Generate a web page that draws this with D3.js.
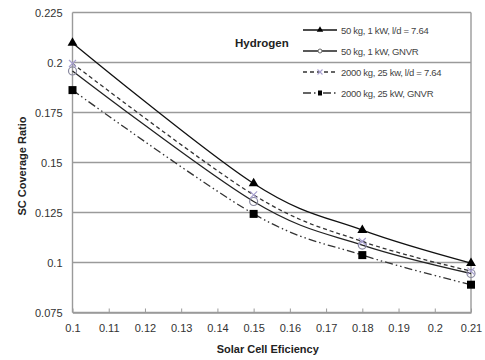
<!DOCTYPE html>
<html>
<head>
<meta charset="utf-8">
<script src="https://cdn.jsdelivr.net/npm/d3@7"></script>
<style>
  body { margin: 0; background: #fff; }
  svg { display: block; font-family: "Liberation Sans", Arial, sans-serif; }
</style>
</head>
<body>
<svg id="chart" width="485" height="360"></svg>
<script>
// chart data
const efficiency = [0.1, 0.15, 0.18, 0.21];
const h50ld = [0.2098, 0.1395, 0.1162, 0.0997];
const h50gnvr = [0.1958, 0.1305, 0.1087, 0.0945];
const h2000ld = [0.1995, 0.1338, 0.1105, 0.0957];
const h2000gnvr = [0.1862, 0.1243, 0.1037, 0.0889];
const seriesNames = ["50 kg, 1 kW, l/d = 7.64", "50 kg, 1 kW, GNVR", "2000 kg, 25 kw, l/d = 7.64", "2000 kg, 25 kW, GNVR"];
const xTicks = [0.1, 0.11, 0.12, 0.13, 0.14, 0.15, 0.16, 0.17, 0.18, 0.19, 0.2, 0.21];
const yTicks = [0.075, 0.1, 0.125, 0.15, 0.175, 0.2, 0.225];

const svg = d3.select("#chart");
const plot = { left: 72.5, right: 471, top: 12.5, bottom: 312.5 };

const x = d3.scaleLinear().domain([0.1, 0.21]).range([plot.left, plot.right]);
const y = d3.scaleLinear().domain([0.075, 0.225]).range([plot.bottom, plot.top]);

// gridlines
svg.append("g").selectAll("line").data(yTicks).enter().append("line")
    .attr("x1", plot.left).attr("x2", plot.right)
    .attr("y1", d => y(d)).attr("y2", d => y(d))
    .attr("stroke", "#9a9a9a").attr("stroke-width", 1.4);

// border (left, right)
svg.append("line").attr("x1", plot.left).attr("x2", plot.left).attr("y1", plot.top).attr("y2", plot.bottom)
    .attr("stroke", "#9a9a9a").attr("stroke-width", 1.4);
svg.append("line").attr("x1", plot.right).attr("x2", plot.right).attr("y1", plot.top).attr("y2", plot.bottom)
    .attr("stroke", "#9a9a9a").attr("stroke-width", 1.4);

// x axis with inward ticks
const xAxis = svg.append("g").attr("transform", "translate(0," + plot.bottom + ")")
    .call(d3.axisBottom(x).tickValues(xTicks).tickSizeInner(-4).tickSizeOuter(0).tickPadding(12)
        .tickFormat(d3.format("~g")));
xAxis.select(".domain").attr("stroke", "#9a9a9a").attr("stroke-width", 1.4);
xAxis.selectAll(".tick line").attr("stroke", "#9a9a9a");
xAxis.selectAll("text").attr("font-size", 11).attr("fill", "#333").attr("font-family", "Liberation Sans, Arial");

// y axis labels
const yAxis = svg.append("g").attr("transform", "translate(" + plot.left + ",0)")
    .call(d3.axisLeft(y).tickValues(yTicks).tickSize(0).tickPadding(10).tickFormat(d3.format("~g")));
yAxis.select(".domain").remove();
yAxis.selectAll("text").attr("font-size", 11).attr("fill", "#333").attr("font-family", "Liberation Sans, Arial");

// axis titles
svg.append("text").attr("x", (plot.left + plot.right) / 2 - 4).attr("y", 353)
    .attr("text-anchor", "middle").attr("font-size", 11).attr("font-weight", "bold").attr("fill", "#222")
    .text("Solar Cell Eficiency");
svg.append("text").attr("transform", "translate(26,166) rotate(-90)")
    .attr("text-anchor", "middle").attr("font-size", 11).attr("font-weight", "bold").attr("fill", "#222")
    .text("SC Coverage Ratio");

// series
const series = [
    { values: h50ld, dash: null, color: "#111", marker: "triangle" },
    { values: h50gnvr, dash: null, color: "#222", marker: "circle" },
    { values: h2000ld, dash: "4,3", color: "#333", marker: "cross" },
    { values: h2000gnvr, dash: "8,3,1.5,3,1.5,3", color: "#333", marker: "square" }
];

const line = d3.line()
    .x((d, i) => x(efficiency[i]))
    .y(d => y(d))
    .curve(d3.curveCatmullRom.alpha(0));

function drawMarker(g, type, cx, cy) {
    if (type == "triangle") {
        g.append("path").attr("d", d3.symbol().type(d3.symbolTriangle).size(42)())
            .attr("transform", "translate(" + cx + "," + cy + ")").attr("fill", "#000");
    }
    else if (type == "circle") {
        g.append("circle").attr("cx", cx).attr("cy", cy).attr("r", 4)
            .attr("fill", "none").attr("stroke", "#8a8aa0").attr("stroke-width", 1.2);
    }
    else if (type == "cross") {
        g.append("path").attr("d", "M-3.5,-3.5L3.5,3.5M-3.5,3.5L3.5,-3.5")
            .attr("transform", "translate(" + cx + "," + cy + ")")
            .attr("stroke", "#a8a0d0").attr("stroke-width", 1.2).attr("fill", "none");
    }
    else {
        g.append("rect").attr("x", cx - 4).attr("y", cy - 4).attr("width", 8).attr("height", 8).attr("fill", "#000");
    }
}

series.forEach(s => {
    svg.append("path").datum(s.values)
        .attr("d", line)
        .attr("fill", "none")
        .attr("stroke", s.color)
        .attr("stroke-width", 1.3)
        .attr("stroke-dasharray", s.dash);
    const g = svg.append("g");
    s.values.forEach((v, i) => drawMarker(g, s.marker, x(efficiency[i]), y(v)));
});

// legend
svg.append("text").attr("x", 235).attr("y", 47)
    .attr("font-size", 11.5).attr("font-weight", "bold").attr("fill", "#222").text("Hydrogen");

const legendY = [30, 51, 72, 93];
series.forEach((s, i) => {
    const g = svg.append("g");
    g.append("line").attr("x1", 303).attr("x2", 337).attr("y1", legendY[i]).attr("y2", legendY[i])
        .attr("stroke", s.color).attr("stroke-width", 1.3).attr("stroke-dasharray", s.dash);
    if (s.marker == "triangle") {
        g.append("path").attr("d", d3.symbol().type(d3.symbolTriangle).size(18)())
            .attr("transform", "translate(320," + legendY[i] + ")").attr("fill", "#000");
    }
    else if (s.marker == "circle") {
        g.append("circle").attr("cx", 320).attr("cy", legendY[i]).attr("r", 2)
            .attr("fill", "#fff").attr("stroke", "#666").attr("stroke-width", 1);
    }
    else if (s.marker == "cross") {
        g.append("path").attr("d", "M-2.5,-2.5L2.5,2.5M-2.5,2.5L2.5,-2.5")
            .attr("transform", "translate(320," + legendY[i] + ")")
            .attr("stroke", "#a8a0d0").attr("stroke-width", 1.1);
    }
    else {
        g.append("rect").attr("x", 318).attr("y", legendY[i] - 2.5).attr("width", 4).attr("height", 5).attr("fill", "#000");
    }
    g.append("text").attr("x", 341).attr("y", legendY[i] + 3.5)
        .attr("font-size", 9.5).attr("fill", "#444").attr("letter-spacing", -0.3)
        .text(seriesNames[i]);
});
</script>
</body>
</html>
